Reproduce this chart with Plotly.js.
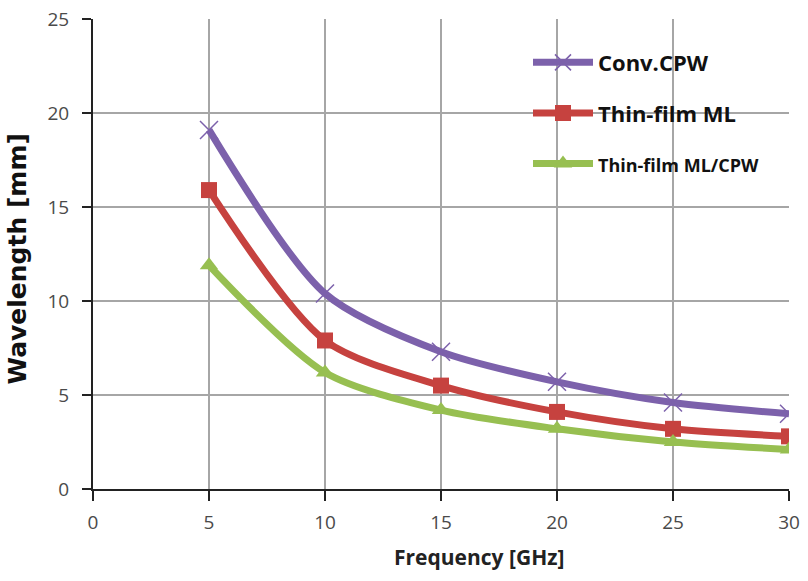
<!DOCTYPE html>
<html>
<head>
<meta charset="utf-8">
<script src="https://cdn.plot.ly/plotly-3.0.1.min.js"></script>
<style>html,body{margin:0;padding:0;background:#fff;}#chart{width:808px;height:581px;}</style>
</head>
<body>
<div id="chart"></div>
<script>
const frequency = [5, 10, 15, 20, 25, 30];
const convCPW = [19.1, 10.4, 7.3, 5.7, 4.6, 4.0];
const thinFilmML = [15.9, 7.9, 5.5, 4.1, 3.2, 2.8];
const thinFilmMLCPW = [11.9, 6.2, 4.2, 3.2, 2.5, 2.1];
const seriesNames = ['Conv.CPW', 'Thin-film ML', 'Thin-film ML/CPW'];
const xTicks = [0, 5, 10, 15, 20, 25, 30];
const yTicks = [0, 5, 10, 15, 20, 25];

const colors = ['#7C61AB', '#C6423F', '#97BF51'];
const symbols = ['x-thin', 'square', 'triangle-up'];
const ys = [convCPW, thinFilmML, thinFilmMLCPW];
const legendFont = [22, 22, 18];

const traces = ys.map((y, i) => ({
  x: frequency, y: y, type: 'scatter', mode: 'lines+markers',
  name: '<span style="font-size:' + legendFont[i] + 'px">' + seriesNames[i] + '</span>',
  legendgroup: 'g' + i,
  line: {color: colors[i], width: 7, shape: 'spline', smoothing: 0.8},
  marker: {symbol: symbols[i], size: i === 0 ? 18 : 16, color: colors[i],
           line: {color: colors[i], width: i === 0 ? 1.5 : 0}}
}));

const tickFont = {size: 19, color: '#4a4a4a', family: 'Open Sans, sans-serif'};

const layout = {
  width: 808, height: 581,
  margin: {l: 93, r: 19, t: 19, b: 92},
  paper_bgcolor: '#fff', plot_bgcolor: '#fff',
  font: {family: 'Open Sans, sans-serif', color: '#404040'},
  xaxis: {
    range: [0, 30], tickvals: xTicks, ticktext: xTicks.map(String),
    showgrid: true, gridcolor: '#A6A6A6', gridwidth: 1.2,
    showline: true, linecolor: '#222', linewidth: 2,
    ticks: 'outside', ticklen: 10, tickwidth: 2, tickcolor: '#222',
    ticklabelstandoff: 5,
    tickfont: tickFont,
    zeroline: false, fixedrange: true
  },
  yaxis: {
    range: [0, 25], tickvals: yTicks, ticktext: yTicks.map(String),
    showgrid: true, gridcolor: '#A6A6A6', gridwidth: 1.2,
    showline: true, linecolor: '#222', linewidth: 2,
    ticks: 'outside', ticklen: 9, tickwidth: 2, tickcolor: '#222',
    ticklabelstandoff: 9,
    tickfont: tickFont,
    zeroline: false, fixedrange: true
  },
  showlegend: true,
  legend: {
    x: 0.625, y: 0.952, xanchor: 'left', yanchor: 'top',
    bgcolor: 'rgba(255,255,255,0)', borderwidth: 0,
    font: {size: 22, color: '#111', family: 'Open Sans, sans-serif', weight: 'bold'},
    tracegroupgap: 19, traceorder: 'grouped', itemwidth: 60
  },
  annotations: [
    {text: '<b>Frequency [GHz]</b>', xref: 'paper', yref: 'paper', x: 0.555, y: -0.145,
     xanchor: 'center', yanchor: 'middle', showarrow: false,
     font: {size: 21, color: '#222', family: 'Open Sans, sans-serif'}},
    {text: '<b>Wavelength [mm]</b>', xref: 'paper', yref: 'paper', x: -0.108, y: 0.49,
     xanchor: 'center', yanchor: 'middle', showarrow: false, textangle: -90,
     font: {size: 25, color: '#111', family: 'DejaVu Sans, sans-serif'}}
  ]
};

Plotly.newPlot('chart', traces, layout, {displayModeBar: false, staticPlot: true});
</script>
</body>
</html>
